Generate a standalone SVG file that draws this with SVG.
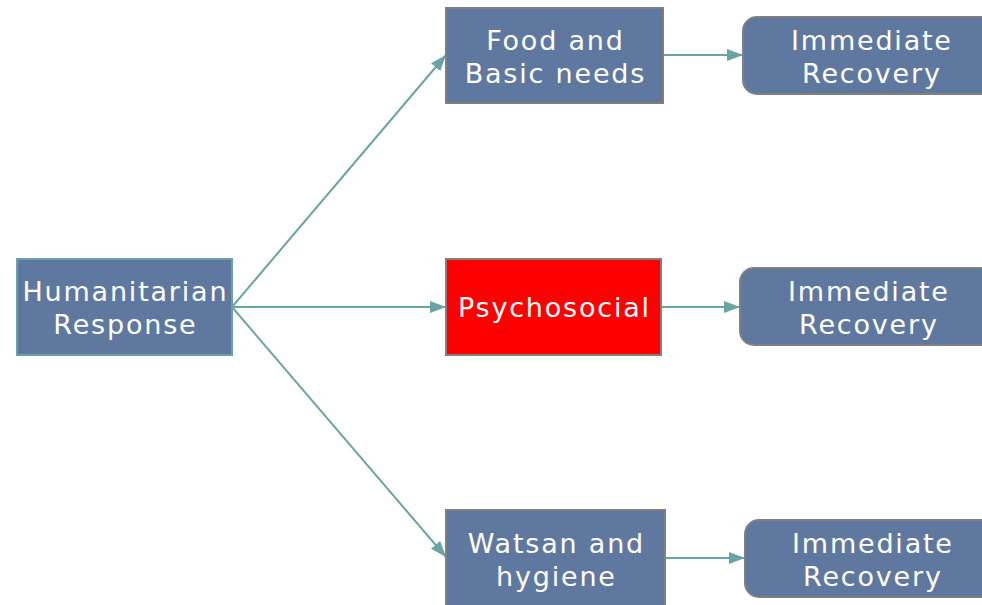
<svg xmlns="http://www.w3.org/2000/svg" width="982" height="605" viewBox="0 0 982 605">
<style>
.n{fill:#5f789f;stroke:#808080;stroke-width:2}
.hr{fill:#5f789f;stroke:#6aa3a3;stroke-width:2}
.t{font-family:"DejaVu Sans",Verdana,sans-serif;font-size:27px;letter-spacing:1.8px;fill:#ffffff;text-anchor:middle}
.c{stroke:#6aa3a3;stroke-width:2;fill:none;marker-end:url(#ah)}
</style>
<defs>
<marker id="ah" viewBox="0 0 16 12" refX="16" refY="6" markerWidth="16" markerHeight="12" markerUnits="userSpaceOnUse" orient="auto">
<path d="M0,0 L16,6 L0,12 Z" fill="#6aa3a3"/>
</marker>
</defs>
<rect width="982" height="605" fill="#ffffff"/>
<g id="connectors">
<path class="c" d="M232,307 L446,55"/>
<path class="c" d="M232,307 L446,307"/>
<path class="c" d="M232,307 L446,557"/>
<path class="c" d="M663,55 L743,55"/>
<path class="c" d="M661,307 L740,307"/>
<path class="c" d="M665,558 L745,558"/>
</g>
<g id="humanitarian">
<rect class="hr" x="17" y="259" width="215" height="96"/>
<text class="t" x="125.4" y="301">Humanitarian</text>
<text class="t" x="125.4" y="334">Response</text>
</g>
<g id="food">
<rect class="n" x="446" y="8" width="217" height="95"/>
<text class="t" x="555.4" y="50">Food and</text>
<text class="t" x="555.4" y="83">Basic needs</text>
</g>
<g id="psychosocial">
<rect x="446" y="259" width="215" height="96" fill="#ff0000" stroke="#808080" stroke-width="2"/>
<text class="t" x="554.4" y="317">Psychosocial</text>
</g>
<g id="watsan">
<rect class="n" x="446" y="510" width="219" height="100"/>
<text class="t" x="556.4" y="553">Watsan and</text>
<text class="t" x="556.4" y="586">hygiene</text>
</g>
<g id="recovery1">
<rect class="n" x="743" y="17" width="260" height="77" rx="14"/>
<text class="t" x="871.9" y="50">Immediate</text>
<text class="t" x="871.9" y="83">Recovery</text>
</g>
<g id="recovery2">
<rect class="n" x="740" y="268" width="260" height="77" rx="14"/>
<text class="t" x="868.9" y="301">Immediate</text>
<text class="t" x="868.9" y="334">Recovery</text>
</g>
<g id="recovery3">
<rect class="n" x="745" y="520" width="260" height="77" rx="14"/>
<text class="t" x="872.9" y="553">Immediate</text>
<text class="t" x="872.9" y="586">Recovery</text>
</g>
</svg>
